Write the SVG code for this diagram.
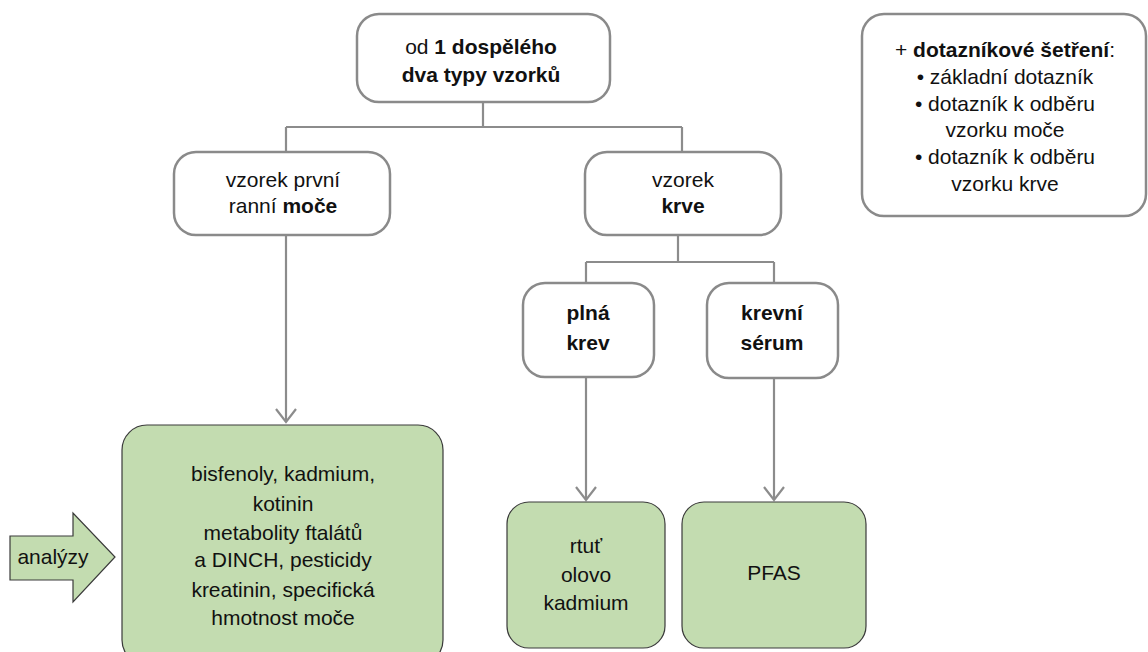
<svg xmlns="http://www.w3.org/2000/svg" width="1148" height="652" viewBox="0 0 1148 652">
<style>
.wb{fill:#ffffff;stroke:#8a8a8a;stroke-width:2.5}
.gb{fill:#c3dcb0;stroke:#3a3a3a;stroke-width:1.2}
.t{font-family:"Liberation Sans",Arial,sans-serif;font-size:21px;fill:#111;text-anchor:middle}
.b{font-weight:bold}
.c{fill:none;stroke:#8c8c8c;stroke-width:2.2}
</style>
<defs>
<marker id="ah" markerUnits="userSpaceOnUse" markerWidth="18" markerHeight="26" viewBox="-15 -13 18 26" refX="0" refY="0" orient="auto">
<path d="M-13,-10 L0,0 L-13,10" fill="none" stroke="#8c8c8c" stroke-width="2.2"/>
</marker>
</defs>
<rect width="1148" height="652" fill="#ffffff"/>
<g id="connectors">
<path class="c" d="M483,102 V127 M286,127 H682 M286,127 V152 M682,127 V152"/>
<path class="c" d="M286,235 V422" marker-end="url(#ah)"/>
<path class="c" d="M678,235 V262 M586,262 H774 M586,262 V283 M774,262 V283"/>
<path class="c" d="M586,377 V500" marker-end="url(#ah)"/>
<path class="c" d="M774,378 V500" marker-end="url(#ah)"/>
</g>
<g id="top">
<rect class="wb" x="357" y="14" width="253" height="88" rx="22"/>
<text class="t" x="481" y="54">od <tspan class="b">1 dospělého</tspan></text>
<text class="t b" x="481" y="82">dva typy vzorků</text>
</g>
<g id="questionnaire">
<rect class="wb" x="862" y="14" width="284" height="202" rx="22"/>
<text class="t" x="1005" y="57">+ <tspan class="b">dotazníkové šetření</tspan>:</text>
<text class="t" x="1005" y="84">• základní dotazník</text>
<text class="t" x="1005" y="111">• dotazník k odběru</text>
<text class="t" x="1005" y="137">vzorku moče</text>
<text class="t" x="1005" y="164">• dotazník k odběru</text>
<text class="t" x="1005" y="191">vzorku krve</text>
</g>
<g id="urine">
<rect class="wb" x="174" y="152" width="216" height="83" rx="22"/>
<text class="t" x="283" y="187">vzorek první</text>
<text class="t" x="283" y="213">ranní <tspan class="b">moče</tspan></text>
</g>
<g id="blood">
<rect class="wb" x="585" y="152" width="196" height="83" rx="22"/>
<text class="t" x="683" y="187">vzorek</text>
<text class="t b" x="683" y="213">krve</text>
</g>
<g id="wholeblood">
<rect class="wb" x="523" y="283" width="131" height="94" rx="22"/>
<text class="t b" x="588" y="320">plná</text>
<text class="t b" x="588" y="350">krev</text>
</g>
<g id="serum">
<rect class="wb" x="707" y="283" width="131" height="95" rx="22"/>
<text class="t b" x="772" y="320">krevní</text>
<text class="t b" x="772" y="350">sérum</text>
</g>
<g id="urine-analyses">
<rect class="gb" x="122" y="425" width="321" height="240" rx="25"/>
<text class="t" x="283" y="481">bisfenoly, kadmium,</text>
<text class="t" x="283" y="511">kotinin</text>
<text class="t" x="283" y="540">metabolity ftalátů</text>
<text class="t" x="283" y="567">a DINCH, pesticidy</text>
<text class="t" x="283" y="597">kreatinin, specifická</text>
<text class="t" x="283" y="625">hmotnost moče</text>
</g>
<g id="blood-analyses">
<rect class="gb" x="507" y="502" width="158" height="146" rx="22"/>
<text class="t" x="586" y="553">rtuť</text>
<text class="t" x="586" y="582">olovo</text>
<text class="t" x="586" y="610">kadmium</text>
</g>
<g id="serum-analyses">
<rect class="gb" x="682" y="502" width="184" height="146" rx="22"/>
<text class="t" x="774" y="580">PFAS</text>
</g>
<g id="analyses-arrow">
<path class="gb" d="M10,536 H73 V513 L115,557 L73,602 V580 H10 Z"/>
<text class="t" x="53" y="564">analýzy</text>
</g>
</svg>
